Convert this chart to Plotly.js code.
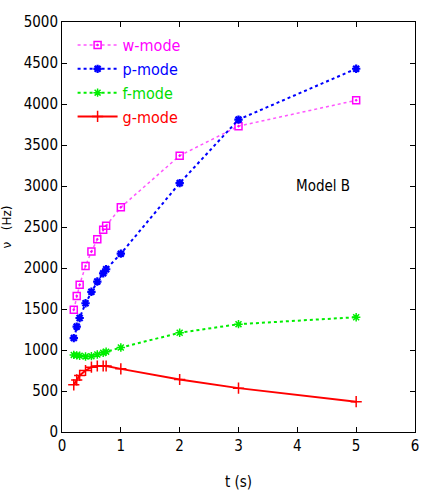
<!DOCTYPE html>
<html>
<head>
<meta charset="utf-8">
<script src="https://cdn.plot.ly/plotly-3.0.1.min.js"></script>
<style>
  html, body { margin: 0; padding: 0; background: #fff; }
  #chart { width: 436px; height: 491px; }
</style>
</head>
<body>
<div id="chart"></div>
<script>
// time since bounce (s)
const t = [0.2, 0.25, 0.3, 0.4, 0.5, 0.6, 0.7, 0.75, 1, 2, 3, 5];

// mode frequencies (Hz)
const wMode = [1490, 1660, 1795, 2025, 2200, 2350, 2465, 2515, 2740, 3370, 3730, 4045];
const pMode = [1145, 1285, 1390, 1570, 1710, 1835, 1935, 1985, 2175, 3035, 3810, 4430];
const fMode = [940, 935, 930, 920, 925, 945, 965, 980, 1030, 1210, 1315, 1400];
const gMode = [575, 635, 690, 750, 790, 805, 805, 805, 770, 640, 535, 370];

const modeNames = ["w-mode", "p-mode", "f-mode", "g-mode"];
const xTicks = [0, 1, 2, 3, 4, 5, 6];

const narrow = "Liberation Sans Narrow, DejaVu Sans Condensed, Liberation Sans, sans-serif";

function label(name, color) {
  return '<span style="color:' + color + '">' + name + '</span>';
}

const traces = [
  {
    x: t, y: wMode, type: "scatter", mode: "lines+markers",
    name: label(modeNames[0], "#ff00ff"),
    line: {color: "#ff55ff", width: 1.5, dash: "dot"},
    marker: {symbol: "square-open-dot", size: 7, color: "#ff00ff", line: {color: "#ff00ff", width: 1.5}}
  },
  {
    x: t, y: pMode, type: "scatter", mode: "lines+markers",
    name: label(modeNames[1], "#0000ff"),
    line: {color: "#0000ff", width: 2, dash: "dot"},
    marker: {symbol: "asterisk-open", size: 7, color: "#0000ff", line: {color: "#0000ff", width: 2.2}}
  },
  {
    x: t, y: fMode, type: "scatter", mode: "lines+markers",
    name: label(modeNames[2], "#00dd00"),
    line: {color: "#00ee00", width: 2, dash: "dot"},
    marker: {symbol: "asterisk-open", size: 7, color: "#00ee00", line: {color: "#00ee00", width: 1.5}}
  },
  {
    x: t, y: gMode, type: "scatter", mode: "lines+markers",
    name: label(modeNames[3], "#ff0000"),
    line: {color: "#ff0000", width: 2},
    marker: {symbol: "cross-thin-open", size: 8, color: "#ff0000", line: {color: "#ff0000", width: 1.5}}
  }
];

const layout = {
  width: 436, height: 491,
  margin: {l: 62, r: 21, t: 22, b: 59},
  paper_bgcolor: "#fff", plot_bgcolor: "#fff",
  font: {family: narrow, size: 15, color: "#000"},
  showlegend: true,
  legend: {
    x: 0.03, y: 0.985, xanchor: "left", yanchor: "top",
    bgcolor: "rgba(0,0,0,0)", borderwidth: 0,
    font: {family: narrow, size: 16},
    tracegroupgap: 0, itemwidth: 40
  },
  xaxis: {
    range: [0, 6], tickvals: xTicks,
    ticks: "inside", ticklen: 5, tickcolor: "#000",
    showline: true, linecolor: "#000", linewidth: 1, mirror: "ticks",
    showgrid: false, zeroline: false,
    tickfont: {family: narrow, size: 15},
    title: {text: "t (s)", font: {family: narrow, size: 15}, standoff: 22}
  },
  yaxis: {
    range: [0, 5000], dtick: 500,
    ticks: "inside", ticklen: 5, tickcolor: "#000",
    showline: true, linecolor: "#000", linewidth: 1, mirror: "ticks",
    showgrid: false, zeroline: false,
    tickfont: {family: narrow, size: 15},
    title: {text: "\u03bd\u00a0\u00a0\u00a0(Hz)", font: {family: "DejaVu Sans, sans-serif", size: 12}, standoff: 14}
  },
  annotations: [{
    x: 4.44, y: 3000, xref: "x", yref: "y",
    text: "Model B", showarrow: false,
    font: {family: narrow, size: 15, color: "#000"}
  }]
};

Plotly.newPlot("chart", traces, layout, {displayModeBar: false, staticPlot: true});
</script>
</body>
</html>
